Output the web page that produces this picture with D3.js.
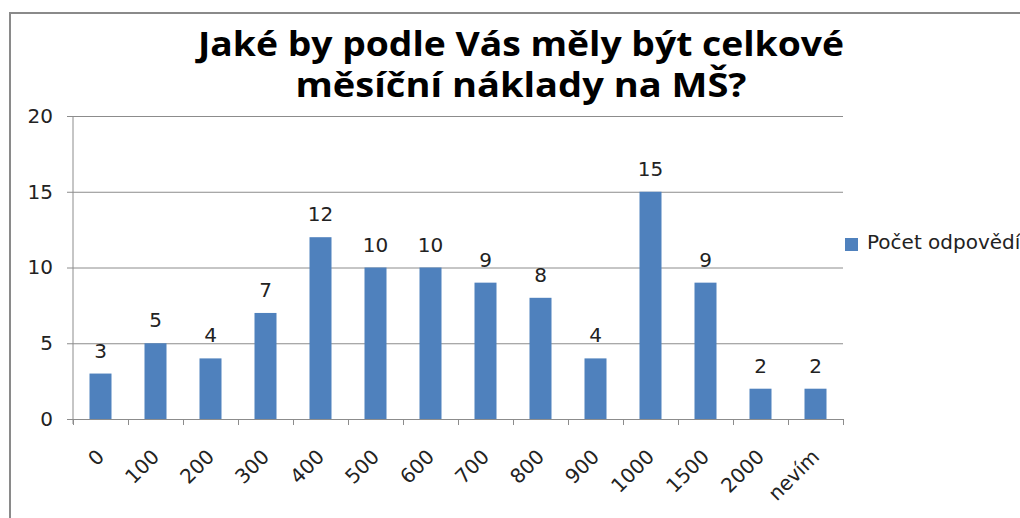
<!DOCTYPE html>
<html>
<head>
<meta charset="utf-8">
<script src="https://cdn.jsdelivr.net/npm/d3@7"></script>
<style>
  body { margin: 0; background: #fff; }
  svg { display: block; }
</style>
</head>
<body>
<div id="app"></div>
<script>
const categories = ["0", "100", "200", "300", "400", "500", "600", "700", "800", "900", "1000", "1500", "2000", "nevím"];
const counts = [3, 5, 4, 7, 12, 10, 10, 9, 8, 4, 15, 9, 2, 2];
const yTicks = [0, 5, 10, 15, 20];
const titleLines = ["Jaké by podle Vás měly být celkové", "měsíční náklady na MŠ?"];
const seriesName = "Počet odpovědí";

const width = 1020;
const height = 518;
const plot = { left: 73, right: 843, top: 116, bottom: 419 };
const labelFont = "'DejaVu Sans', Verdana, sans-serif";
const barColor = "#4f81bd";
const gridColor = "#8c8c8c";

const svg = d3
  .select("div#app")
  .append("svg")
  .attr("width", width)
  .attr("height", height);

// outer chart frame
svg
  .append("rect")
  .attr("x", 10)
  .attr("y", 13)
  .attr("width", 1030)
  .attr("height", 540)
  .attr("fill", "#fff")
  .attr("stroke", "#8a8a8a")
  .attr("stroke-width", 2);

const xScale = d3
  .scaleBand()
  .domain(categories)
  .range([plot.left, plot.right])
  .paddingInner(0.6)
  .paddingOuter(0.3);

const yScale = d3
  .scaleLinear()
  .domain([0, 20])
  .range([plot.bottom, plot.top]);

// title, two lines
const titleWidths = [646, 451];
titleLines.forEach((line, i) => {
  svg
    .append("text")
    .attr("x", 521)
    .attr("y", 56 + i * 41)
    .attr("text-anchor", "middle")
    .attr("textLength", titleWidths[i])
    .attr("lengthAdjust", "spacingAndGlyphs")
    .style("font-family", "'Open Sans', sans-serif")
    .style("font-weight", "bold")
    .style("font-size", "34px")
    .style("fill", "#000")
    .text(line);
});

// gridlines + y axis
const yAxis = svg
  .append("g")
  .attr("transform", `translate(${plot.left}, 0)`)
  .call(
    d3.axisLeft(yScale)
      .tickValues(yTicks)
      .tickSize(6)
      .tickPadding(14)
  );
yAxis.select(".domain").attr("stroke", gridColor).attr("d", `M0,${plot.top}V${plot.bottom + 5}`);
yAxis.selectAll(".tick line").attr("stroke", gridColor);
yAxis
  .selectAll(".tick text")
  .style("font-family", labelFont)
  .style("font-size", "20px")
  .style("fill", "#222");

svg
  .append("g")
  .selectAll("line")
  .data(yTicks.filter((t) => t > 0))
  .enter()
  .append("line")
  .attr("x1", plot.left)
  .attr("x2", plot.right)
  .attr("y1", (d) => yScale(d) + 0.5)
  .attr("y2", (d) => yScale(d) + 0.5)
  .attr("stroke", gridColor)
  .attr("stroke-width", 1);

// x axis with ticks at category boundaries
const step = xScale.step();
const xAxis = svg
  .append("g")
  .attr("transform", `translate(0, ${plot.bottom})`);
xAxis
  .append("line")
  .attr("x1", plot.left - 6)
  .attr("x2", plot.right)
  .attr("y1", 0.5)
  .attr("y2", 0.5)
  .attr("stroke", gridColor);
xAxis
  .selectAll("line.tick")
  .data(d3.range(categories.length + 1))
  .enter()
  .append("line")
  .attr("class", "tick")
  .attr("x1", (i) => plot.left + i * step + 0.5)
  .attr("x2", (i) => plot.left + i * step + 0.5)
  .attr("y1", 0)
  .attr("y2", 6)
  .attr("stroke", gridColor);
xAxis
  .selectAll("text")
  .data(categories)
  .enter()
  .append("text")
  .attr("transform", (d) => {
    const cx = xScale(d) + xScale.bandwidth() / 2 + 5;
    return `translate(${cx}, 39) rotate(-45)`;
  })
  .attr("text-anchor", "end")
  .style("font-family", labelFont)
  .style("font-size", "20px")
  .style("fill", "#222")
  .text((d) => d);

// bars
svg
  .selectAll("rect.bar")
  .data(counts)
  .enter()
  .append("rect")
  .attr("class", "bar")
  .attr("x", (d, i) => xScale(categories[i]))
  .attr("y", (d) => yScale(d))
  .attr("width", xScale.bandwidth())
  .attr("height", (d) => yScale(0) - yScale(d))
  .attr("fill", barColor);

// data labels
svg
  .selectAll("text.value")
  .data(counts)
  .enter()
  .append("text")
  .attr("class", "value")
  .attr("x", (d, i) => xScale(categories[i]) + xScale.bandwidth() / 2)
  .attr("y", (d) => yScale(d) - 16)
  .attr("text-anchor", "middle")
  .style("font-family", labelFont)
  .style("font-size", "20px")
  .style("fill", "#222")
  .text((d) => d);

// legend
const legend = svg.append("g").attr("transform", "translate(845, 238)");
legend
  .append("rect")
  .attr("width", 13)
  .attr("height", 13)
  .attr("fill", barColor);
legend
  .append("text")
  .attr("x", 22)
  .attr("y", 11)
  .style("font-family", labelFont)
  .style("font-size", "20px")
  .style("fill", "#222")
  .text(seriesName);
</script>
</body>
</html>
